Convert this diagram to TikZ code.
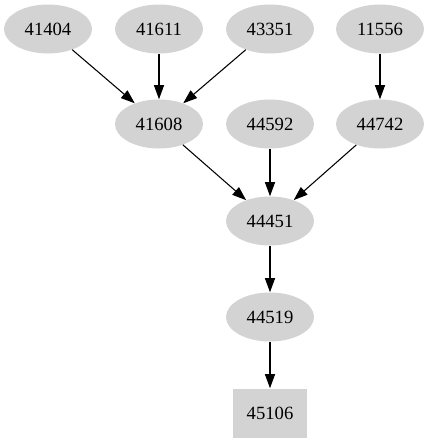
\documentclass[tikz,border=0pt]{standalone}
\usepackage{fontspec}
\setmainfont{Liberation Serif}
\usetikzlibrary{shapes.geometric,arrows.meta}
\definecolor{nodegray}{HTML}{D3D3D3}
\tikzset{
  ell/.style={ellipse, fill=nodegray, draw=none, inner sep=0pt, minimum width=66pt, minimum height=36.75pt, font=\fontsize{14pt}{16pt}\selectfont},
  boxnode/.style={rectangle, fill=nodegray, draw=none, inner sep=0pt, minimum width=55.5pt, minimum height=36.75pt, font=\fontsize{14pt}{16pt}\selectfont},
  edge/.style={draw=black, line width=0.8pt, -{Triangle[length=10.5pt,width=7.5pt]}}
}
\begin{document}
\begin{tikzpicture}[x=0.75pt,y=-0.75pt]
\useasboundingbox (0,0) rectangle (429,443);
\node[ell] (n41404) at (48,29) {41404};
\node[ell] (n41611) at (159,29) {41611};
\node[ell] (n43351) at (270,29) {43351};
\node[ell] (n11556) at (380,29) {11556};
\node[ell] (n41608) at (159,124) {41608};
\node[ell] (n44592) at (270,124) {44592};
\node[ell] (n44742) at (380,124) {44742};
\node[ell] (n44451) at (270,221) {44451};
\node[ell] (n44519) at (270,317) {44519};
\node[boxnode] (n45106) at (270,413) {45106};
\draw[edge] (n41404) -- (n41608);
\draw[edge] (n41611) -- (n41608);
\draw[edge] (n43351) -- (n41608);
\draw[edge] (n11556) -- (n44742);
\draw[edge] (n41608) -- (n44451);
\draw[edge] (n44592) -- (n44451);
\draw[edge] (n44742) -- (n44451);
\draw[edge] (n44451) -- (n44519);
\draw[edge] (n44519) -- (n45106);
\end{tikzpicture}
\end{document}
